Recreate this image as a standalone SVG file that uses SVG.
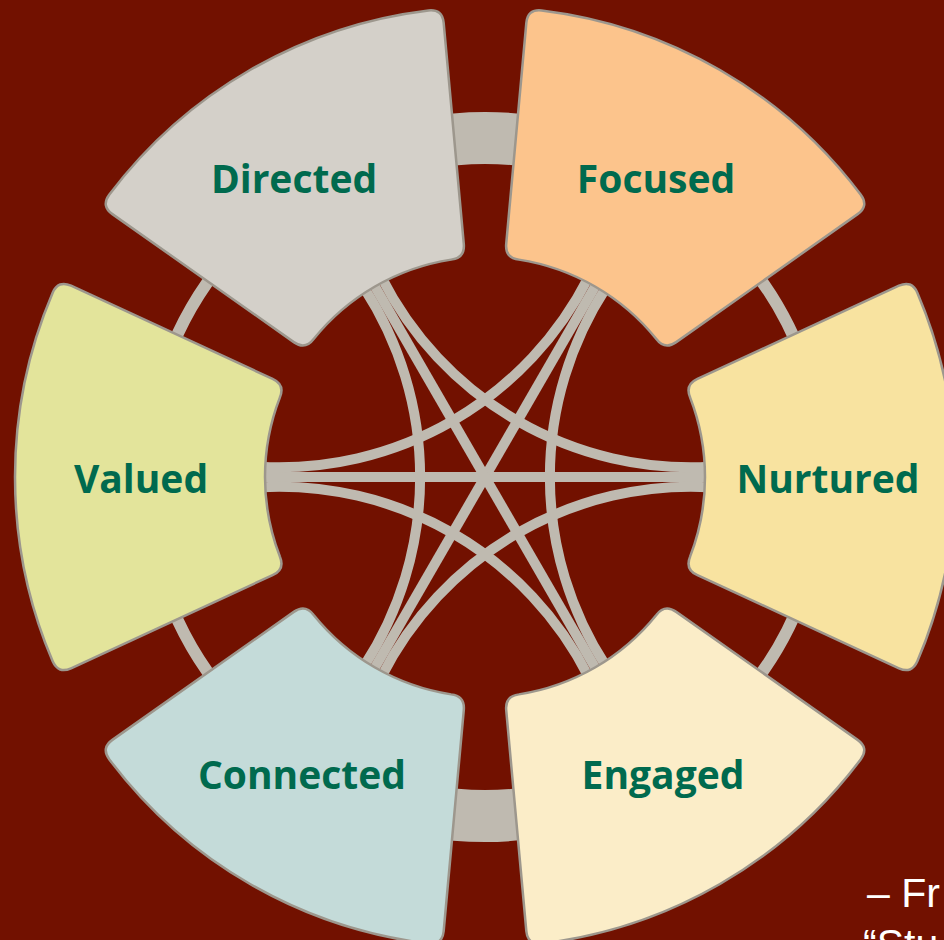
<svg xmlns="http://www.w3.org/2000/svg" width="944" height="940" viewBox="0 0 944 940">
<style>
.seg{stroke:#9d978d;stroke-width:2.5}
.lbl{font-family:"Open Sans","Noto Sans","Liberation Sans",sans-serif;font-weight:700;font-size:39px;fill:#006a4e;text-anchor:middle}
.c{fill:none;stroke:#bfbab0;stroke-linecap:butt}
.in{stroke-width:10}
.out{stroke-width:12}
.big{stroke-width:52}
.quote{font-family:"Liberation Sans",Arial,sans-serif;font-size:41px;fill:#ffffff}
</style>
<defs>
<path id="sector" d="M 212.42,-98.15 L 413.95,-191.27 Q 426.66,-197.14 432.33,-184.35 A 470 470 0 0 1 432.33,184.35 Q 426.66,197.14 413.95,191.27 L 212.42,98.15 Q 199.71,92.28 205.17,79.39 A 220 220 0 0 0 205.17,-79.39 Q 199.71,-92.28 212.42,-98.15 Z"/>
</defs>
<rect x="0" y="0" width="944" height="940" fill="#721100"/>
<g id="connectors">
<path class="c big" d="M 543.87 143.15 A 339 339 0 0 0 426.13 143.15"/>
<path class="c big" d="M 426.13 810.85 A 339 339 0 0 0 543.87 810.85"/>
<path class="c out" d="M 803.56 361.05 A 339 339 0 0 0 744.69 259.09"/>
<path class="c out" d="M 225.31 259.09 A 339 339 0 0 0 166.44 361.05"/>
<path class="c out" d="M 166.44 592.95 A 339 339 0 0 0 225.31 694.91"/>
<path class="c out" d="M 744.69 694.91 A 339 339 0 0 0 803.56 592.95"/>
<path class="c in" d="M 710 477 L 260 477"/>
<path class="c in" d="M 597.5 282.14 L 372.5 671.86"/>
<path class="c in" d="M 372.5 282.14 L 597.5 671.86"/>
<path class="c in" d="M 709.77 466.79 A 347 347 0 0 1 381.45 277.24"/>
<path class="c in" d="M 588.55 277.24 A 347 347 0 0 1 260.23 466.79"/>
<path class="c in" d="M 363.78 287.45 A 347 347 0 0 1 363.78 666.55"/>
<path class="c in" d="M 260.23 487.21 A 347 347 0 0 1 588.55 676.76"/>
<path class="c in" d="M 381.45 676.76 A 347 347 0 0 1 709.77 487.21"/>
<path class="c in" d="M 606.22 666.55 A 347 347 0 0 1 606.22 287.45"/>
</g>
<g id="node-directed">
<use href="#sector" class="seg" fill="#d4d0c9" transform="translate(485,477) rotate(-120)"/>
<text class="lbl" x="294" y="193">Directed</text>
</g>
<g id="node-focused">
<use href="#sector" class="seg" fill="#fcc48c" transform="translate(485,477) rotate(-60)"/>
<text class="lbl" x="656" y="193">Focused</text>
</g>
<g id="node-nurtured">
<use href="#sector" class="seg" fill="#f8e3a0" transform="translate(485,477)"/>
<text class="lbl" x="828" y="493">Nurtured</text>
</g>
<g id="node-engaged">
<use href="#sector" class="seg" fill="#fbedc8" transform="translate(485,477) rotate(60)"/>
<text class="lbl" x="663" y="789">Engaged</text>
</g>
<g id="node-connected">
<use href="#sector" class="seg" fill="#c4dbd9" transform="translate(485,477) rotate(120)"/>
<text class="lbl" x="302" y="789">Connected</text>
</g>
<g id="node-valued">
<use href="#sector" class="seg" fill="#e3e49b" transform="translate(485,477) rotate(180)"/>
<text class="lbl" x="141" y="493">Valued</text>
</g>
<g id="attribution">
<text class="quote" x="867" y="907">– Fr</text>
<text class="quote" x="863" y="958">“Stu</text>
</g>
</svg>
